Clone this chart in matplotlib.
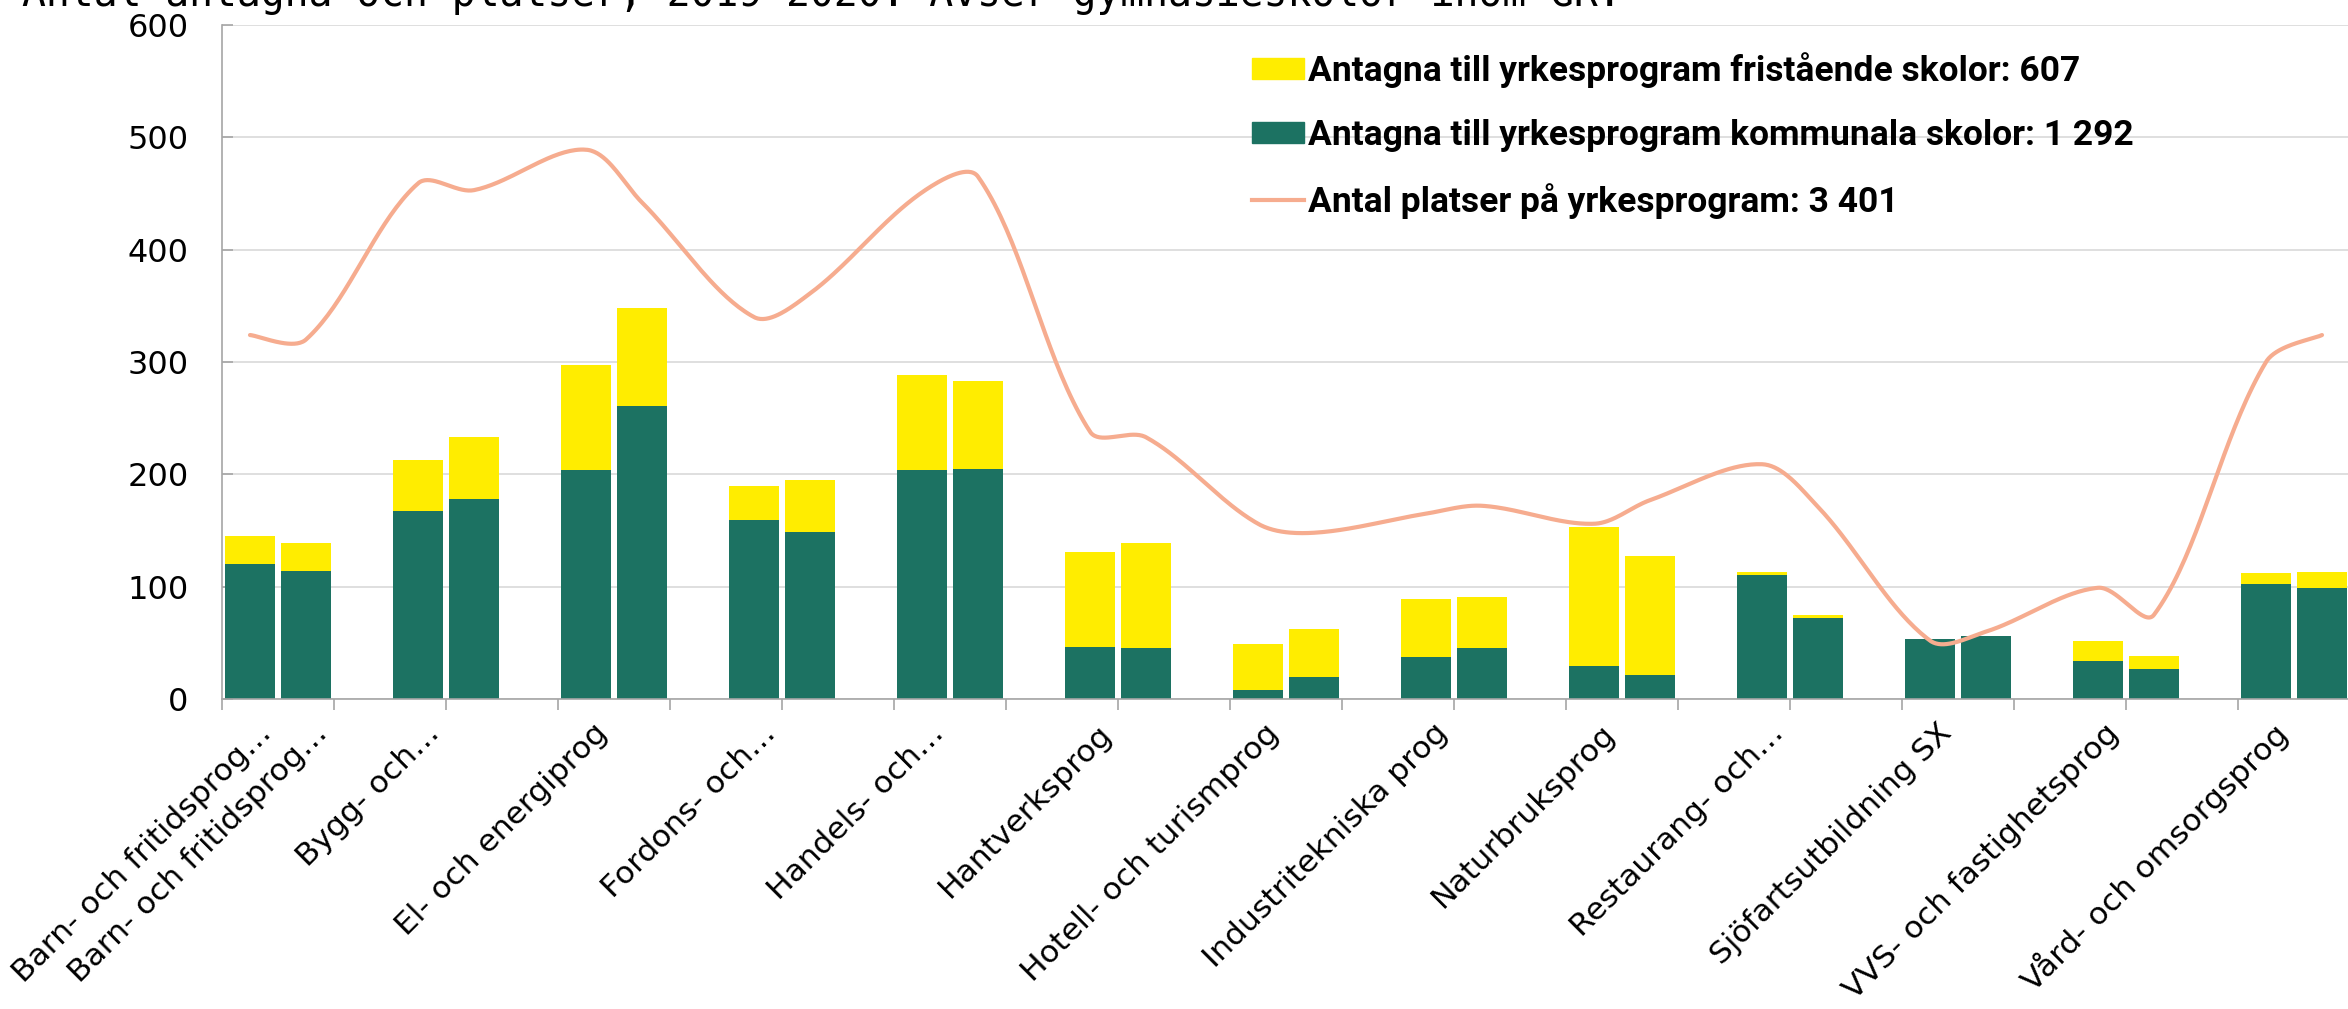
import numpy as np
import matplotlib
matplotlib.use('Agg')
import matplotlib.pyplot as plt
from matplotlib.patches import Patch
from matplotlib.lines import Line2D
from matplotlib.transforms import blended_transform_factory

title = 'Antal antagna och platser, 2019-2020. Avser gymnasieskolor inom GR.'

programs = ['Barn- och fritidsprog…', 'Bygg- och…', 'El- och energiprog', 'Fordons- och…',
            'Handels- och…', 'Hantverksprog', 'Hotell- och turismprog', 'Industritekniska prog',
            'Naturbruksprog', 'Restaurang- och…', 'Sjöfartsutbildning SX',
            'VVS- och fastighetsprog', 'Vård- och omsorgsprog']

# first bar of each pair = 2019, second = 2020
kommunala_2019 = [120, 167, 204, 159, 204, 46, 8, 37, 29, 110, 53, 34, 102]
kommunala_2020 = [114, 178, 261, 149, 205, 45, 20, 45, 21, 72, 56, 27, 99]
fristaende_2019 = [25, 46, 93, 31, 84, 85, 41, 52, 124, 3, 0, 18, 10]
fristaende_2020 = [25, 55, 87, 46, 78, 94, 42, 46, 106, 3, 0, 11, 14]
platser_2019 = [324, 459, 489, 340, 451, 238, 156, 165, 156, 209, 52, 99, 300]
platser_2020 = [320, 453, 442, 361, 465, 233, 148, 172, 177, 171, 60, 75, 324]

green = '#1C7262'
yellow = '#FFED00'
salmon = '#F6AC8F'


def fmt(n):
    return f'{n:,}'.replace(',', ' ')


def smooth(xs, ys, sx, sy, n=40):
    # bezier through the points, control arms scaled by segment length (excel-ish smoothing)
    P = np.column_stack([xs, ys]).astype(float)
    N = len(P)
    d = np.hypot((P[1:, 0] - P[:-1, 0]) * sx, (P[1:, 1] - P[:-1, 1]) * sy)
    cout = P.copy()
    cin = P.copy()
    cout[0] = P[0] + (P[1] - P[0]) / 6
    cin[-1] = P[-1] - (P[-1] - P[-2]) / 6
    for i in range(1, N - 1):
        T = P[i + 1] - P[i - 1]
        cout[i] = P[i] + T / 3 * d[i] / (d[i - 1] + d[i])
        cin[i] = P[i] - T / 3 * d[i - 1] / (d[i - 1] + d[i])
    t = np.linspace(0, 1, n)[:, None]
    out = []
    for i in range(N - 1):
        seg = ((1 - t)**3 * P[i] + 3 * (1 - t)**2 * t * cout[i]
               + 3 * (1 - t) * t**2 * cin[i + 1] + t**3 * P[i + 1])
        out.append(seg if i == 0 else seg[1:])
    return np.vstack(out)


W, H = 2348, 1009
fig = plt.figure(figsize=(W / 100, H / 100), dpi=100)
ax = fig.add_axes([222 / W, 310 / H, 39 * 56 / W, 674 / H])

n = len(programs)
x19 = np.arange(n) * 3
x20 = np.arange(n) * 3 + 1
bw = 0.91

ax.bar(x19, kommunala_2019, bw, color=green, zorder=2)
ax.bar(x20, kommunala_2020, bw, color=green, zorder=2)
ax.bar(x19, fristaende_2019, bw, bottom=kommunala_2019, color=yellow, zorder=2)
ax.bar(x20, fristaende_2020, bw, bottom=kommunala_2020, color=yellow, zorder=2)

xs = np.ravel(np.column_stack([x19, x20]))
ys = np.ravel(np.column_stack([platser_2019, platser_2020]))
curve = smooth(xs, ys, 56, 674 / 600)
ax.plot(curve[:, 0], curve[:, 1], color=salmon, lw=3, zorder=3, solid_capstyle='round')

ax.set_xlim(-0.5, 38.5)
ax.set_ylim(0, 600)
ax.set_yticks(range(0, 601, 100))
ax.yaxis.grid(True, color='#D9D9D9', lw=1.2)
ax.set_axisbelow(True)
for s in ['top', 'right']:
    ax.spines[s].set_visible(False)
for s in ['left', 'bottom']:
    ax.spines[s].set_color('#A6A6A6')
    ax.spines[s].set_linewidth(1.2)

ax.tick_params(axis='y', direction='in', length=8, width=1.2, color='#A6A6A6',
               pad=24, labelsize=23)
for lab in ax.get_yticklabels():
    lab.set_family('DejaVu Sans')

ax.set_xticks([])
ax.set_xticks(np.arange(-0.5, 39, 2), minor=True)
ax.tick_params(axis='x', which='minor', direction='out', length=8, width=1.2, color='#A6A6A6')

# category labels: first bar of each group, Barn also on its second bar
lab_pos = [0, 1] + list(x19[1:])
lab_txt = [programs[0], programs[0]] + programs[1:]
trans = blended_transform_factory(ax.transData, ax.transAxes)
for xp, txt in zip(lab_pos, lab_txt):
    ax.text(xp + 0.3, -0.044, txt, transform=trans, rotation=45, ha='right', va='center',
            rotation_mode='anchor', fontsize=22.5, family='DejaVu Sans')

fig.text(22 / W, 1 - 6 / H, title, family='DejaVu Sans Mono', fontsize=28.6,
         ha='left', va='baseline')

handles = [Patch(color=yellow), Patch(color=green), Line2D([], [], color=salmon, lw=3)]
labels = ['Antagna till yrkesprogram fristående skolor: ' + fmt(sum(fristaende_2020)),
          'Antagna till yrkesprogram kommunala skolor: ' + fmt(sum(kommunala_2020)),
          'Antal platser på yrkesprogram: ' + fmt(sum(platser_2020))]
leg = ax.legend(handles, labels, loc='upper left', bbox_to_anchor=(1252 / W, 1 - 52 / H),
                bbox_transform=fig.transFigure, frameon=False, borderpad=0, borderaxespad=0,
                handlelength=1.47, handleheight=0.56, handletextpad=0.11, labelspacing=0.88,
                prop={'family': 'Roboto', 'weight': 'bold', 'size': 25.5})

fig.savefig('out.png', dpi=100)
